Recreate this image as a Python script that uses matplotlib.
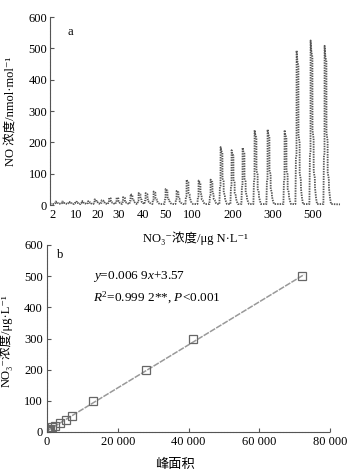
import matplotlib
matplotlib.use("Agg")
import matplotlib.pyplot as plt
import numpy as np

plt.rcParams['font.family'] = ['Liberation Serif', 'Noto Sans CJK SC', 'DejaVu Serif']
plt.rcParams['mathtext.fontset'] = 'custom'
plt.rcParams['mathtext.rm'] = 'Liberation Serif'
plt.rcParams['mathtext.it'] = 'Liberation Serif:italic'

# (a) NO signal trace: peak positions (axis units) and heights (nmol/mol)
peak_pos = [6, 12.5, 19, 25.5, 32, 38.5, 45, 52, 59.5, 67, 73.5, 81, 89, 96, 104,
            116, 127, 137, 149, 161, 171, 182, 193, 205, 218, 235, 247, 261, 275]
peak_h = [8, 8, 7, 8, 10, 9, 15, 12, 20, 20, 22, 32, 35, 35, 40,
          48, 42, 78, 75, 78, 182, 172, 180, 236, 238, 236, 490, 522, 505]
# step-shaped peak profile read from the largest peaks (offset, fraction of height)
shape_dx = [-1.6, -1.1, -0.5, -0.4, 0.4, 1.4, 1.5, 2.6, 2.7, 3.8, 4.0, 5.0, 6.0]
shape_f = [0.0, 0.3, 0.32, 1.0, 0.93, 0.9, 0.45, 0.4, 0.2, 0.16, 0.1, 0.04, 0.0]
a_ticks = [3, 26, 48, 69, 93, 115, 142, 183, 223, 263]
a_labels = ['2', '10', '20', '30', '40', '50', '100', '200', '300', '500']

# (b) calibration
area = [200, 450, 900, 1500, 2300, 3800, 5400, 7000, 13000, 28000, 41200, 72200]
conc = [2, 5, 10, 15, 20, 30, 40, 50, 100, 200, 300, 500]
slope, intercept = 0.0069, 3.57

fig = plt.figure(figsize=(3.55, 4.76), dpi=100)
ax1 = fig.add_axes([50/355, 1-205/476, 290/355, 188/476])
ax2 = fig.add_axes([47/355, 1-432/476, 283/355, 187/476])

spine_col = '#555555'
fs = 9

# build trace
xs, ys = [0.0], [4.0]
for i, (p, h) in enumerate(zip(peak_pos, peak_h)):
    nxt = peak_pos[i+1] if i+1 < len(peak_pos) else 1e9
    for dx, f in zip(shape_dx, shape_f):
        if p + dx < nxt - 1.6:
            xs.append(p + dx)
            ys.append(3 + h * f)
xs.append(290)
ys.append(2)
ax1.plot(xs, ys, color='#555555', lw=1.3, ls=(0, (0.8, 0.6)), clip_on=False)

ax1.set_xlim(0, 290)
ax1.set_ylim(0, 600)
ax1.set_yticks(range(0, 601, 100))
ax1.set_xticks(a_ticks)
ax1.set_xticklabels(a_labels)
ax1.tick_params(axis='x', length=0, pad=3, labelsize=fs)
ax1.tick_params(axis='y', direction='in', length=3, width=0.8, color=spine_col, pad=2, labelsize=fs)
for s in ['top', 'right', 'bottom']:
    ax1.spines[s].set_visible(False)
ax1.spines['left'].set_color(spine_col)
ax1.spines['left'].set_linestyle((0, (2, 0.8)))
ax1.set_ylabel('NO 浓度/nmol·mol⁻¹', fontsize=fs)
ax1.yaxis.set_label_coords(-0.115, 0.5)
ax1.set_xlabel('NO₃⁻浓度/μg N·L⁻¹', fontsize=fs)
ax1.xaxis.set_label_coords(0.5, -0.14)
ax1.text(0.059, 0.92, 'a', transform=ax1.transAxes, fontsize=fs, va='center')

# calibration panel
fit_x = np.array([0, area[-1] + 500])
ax2.plot(fit_x, slope * fit_x + intercept, color='#999999', lw=1.1, ls=(0, (4, 0.8)))
ax2.plot(area, conc, ls='none', marker='s', ms=5.5, mfc='none', mec='#666666', mew=0.9)
ax2.set_xlim(0, 80000)
ax2.set_ylim(0, 600)
ax2.set_xticks(range(0, 80001, 20000))
ax2.set_xticklabels(['0', '20 000', '40 000', '60 000', '80 000'])
ax2.set_yticks(range(0, 601, 100))
ax2.tick_params(direction='in', length=3, width=0.8, color=spine_col, labelsize=fs, pad=3)
for s in ['top', 'right']:
    ax2.spines[s].set_visible(False)
for s in ['left', 'bottom']:
    ax2.spines[s].set_color(spine_col)
    ax2.spines[s].set_linestyle((0, (2, 0.8)))
ax2.set_ylabel('NO₃⁻浓度/μg·L⁻¹', fontsize=fs)
ax2.yaxis.set_label_coords(-0.12, 0.49)
ax2.set_xlabel('峰面积', fontsize=9.5)
ax2.xaxis.set_label_coords(0.452, -0.145)
ax2.text(0.035, 0.947, 'b', transform=ax2.transAxes, fontsize=fs, va='center')
ax2.text(0.163, 0.83, '$y$=0.006 9$x$+3.57', transform=ax2.transAxes, fontsize=9.5, va='center')
ax2.text(0.163, 0.717, '$R^2$=0.999 2**, $P$<0.001', transform=ax2.transAxes, fontsize=9.5, va='center')

fig.savefig('out.png', dpi=100)
